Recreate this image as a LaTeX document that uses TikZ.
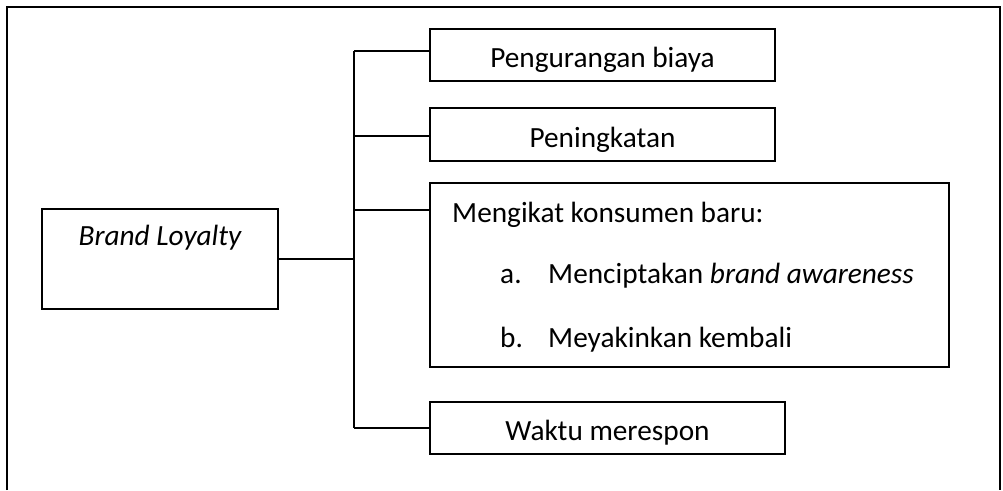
\documentclass[tikz,border=0pt]{standalone}
\usepackage{fontspec}
\setmainfont{Carlito}
\usetikzlibrary{positioning}

\tikzset{
  kotak/.style={draw, line width=1.1pt, inner sep=0pt},
  garis/.style={line width=0.9pt},
  tulis/.style={inner sep=0pt, font=\fontsize{25}{30}\selectfont},
}

\begin{document}
\begin{tikzpicture}[x=0.03cm,y=-0.03cm]
\useasboundingbox (0,0) rectangle (1003,490);
% bingkai luar
\draw[line width=1.6pt] (7,490) -- (7,7) -- (1000,7) -- (1000,490);

% kotak-kotak
\node[kotak, minimum width=7.08cm, minimum height=3cm] (brand) at (160,259) {};
\node[kotak, minimum width=10.35cm, minimum height=1.56cm] (biaya) at (602.5,55) {};
\node[kotak, minimum width=10.35cm, minimum height=1.59cm] (tingkat) at (602.5,134.5) {};
\node[kotak, minimum width=15.57cm, minimum height=5.52cm] (ikat) at (689.5,275) {};
\node[kotak, minimum width=10.65cm, minimum height=1.56cm] (waktu) at (607.5,428) {};

% teks
\node[tulis, anchor=base] (tBrand) at (160,245) {\itshape Brand Loyalty};
\node[tulis, anchor=base] (tBiaya) at (602.5,67) {Pengurangan biaya};
\node[tulis, anchor=base] (tTingkat) at (602.5,147) {Peningkatan};
\node[tulis, anchor=base west] (tIkat) at (452,222) {Mengikat konsumen baru:};
\node[tulis, anchor=base west] (tA) at (500,283) {a.};
\node[tulis, anchor=base west] (tAisi) at (548,283) {Menciptakan \textit{brand awareness}};
\node[tulis, anchor=base west] (tB) at (500,347) {b.};
\node[tulis, anchor=base west] (tBisi) at (548,347) {Meyakinkan kembali};
\node[tulis, anchor=base] (tWaktu) at (607.5,440) {Waktu merespon};

% percabangan
\coordinate (atas) at (354,51);
\coordinate (tengah) at (354,136);
\coordinate (cIkat) at (354,210);
\coordinate (bawah) at (354,428);
\draw[garis] (atas) -- (bawah);
\draw[garis] (brand.east) -- (brand.east -| atas);
\draw[garis] (atas) -- (atas -| biaya.west);
\draw[garis] (tengah) -- (tengah -| tingkat.west);
\draw[garis] (cIkat) -- (cIkat -| ikat.west);
\draw[garis] (bawah) -- (waktu.west);
\end{tikzpicture}
\end{document}
